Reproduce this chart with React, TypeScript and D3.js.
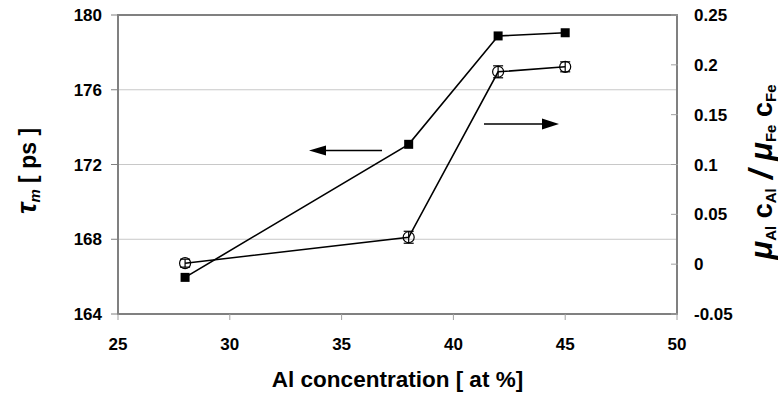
import React from "react";
import * as d3 from "d3";

const alConc = [28, 38, 42, 45];
const tauM = [165.96, 173.08, 178.88, 179.05];
const ratio = [0.001, 0.027, 0.193, 0.198];
const ratioErr = [0.004, 0.006, 0.006, 0.005];
const xTicks = [25, 30, 35, 40, 45, 50];
const yLeftTicks = [164, 168, 172, 176, 180];
const yRightTicks = [-0.05, 0, 0.05, 0.1, 0.15, 0.2, 0.25];

const W = 778, H = 400;
const L = 118, R = 677, T = 15, B = 314;
const FONT = "'Liberation Sans', Arial, sans-serif";

export default function App() {
  const x = d3.scaleLinear().domain([25, 50]).range([L, R]);
  const yL = d3.scaleLinear().domain([164, 180]).range([B, T]);
  const yR = d3.scaleLinear().domain([-0.05, 0.25]).range([B, T]);
  const lineL = d3.line<number>().x((_, i) => x(alConc[i])).y((d) => yL(d));
  const lineR = d3.line<number>().x((_, i) => x(alConc[i])).y((d) => yR(d));
  const fmtR = (v: number) => (Math.abs(v) < 1e-9 ? "0" : String(+v.toFixed(2)));

  return (
    <svg width={W} height={H} style={{ position: "absolute", left: 0, top: 0, background: "#fff" }} fontFamily={FONT}>
      <rect x={0} y={0} width={W} height={H} fill="#fff" />
      {yLeftTicks.slice(1, -1).map((t) => (
        <line key={t} x1={L} x2={R} y1={yL(t)} y2={yL(t)} stroke="#c8c8c8" strokeWidth={1} />
      ))}
      <rect x={L} y={T} width={R - L} height={B - T} fill="none" stroke="#808080" strokeWidth={2} />
      {yLeftTicks.map((t) => (
        <g key={t}>
          <line x1={L - 7} x2={L} y1={yL(t)} y2={yL(t)} stroke="#808080" strokeWidth={1} />
          <text x={L - 16} y={yL(t) + 6} textAnchor="end" fontSize={17} fontWeight="bold">{t}</text>
        </g>
      ))}
      {yRightTicks.map((t) => (
        <g key={t}>
          <line x1={R - 6} x2={R + 1} y1={yR(t)} y2={yR(t)} stroke="#a0a0a0" strokeWidth={1} />
          <text x={R + 17} y={yR(t) + 6} textAnchor="start" fontSize={17} fontWeight="bold">{fmtR(t)}</text>
        </g>
      ))}
      {xTicks.map((t) => (
        <g key={t}>
          <line x1={x(t)} x2={x(t)} y1={B} y2={B + 6} stroke="#a0a0a0" strokeWidth={1} />
          <text x={x(t)} y={B + 36} textAnchor="middle" fontSize={17} fontWeight="bold">{t}</text>
        </g>
      ))}
      <path d={lineL(tauM) || ""} fill="none" stroke="#000" strokeWidth={1.6} />
      <path d={lineR(ratio) || ""} fill="none" stroke="#000" strokeWidth={1.6} />
      {tauM.map((v, i) => (
        <rect key={i} x={x(alConc[i]) - 4.5} y={yL(v) - 4.5} width={9} height={9} fill="#000" />
      ))}
      {ratio.map((v, i) => {
        const cx = x(alConc[i]);
        const y1 = yR(v + ratioErr[i]);
        const y2 = yR(v - ratioErr[i]);
        return (
          <g key={i} stroke="#000" strokeWidth={1.2} fill="none">
            <line x1={cx} x2={cx} y1={y1} y2={y2} />
            <line x1={cx - 5} x2={cx + 5} y1={y1} y2={y1} />
            <line x1={cx - 5} x2={cx + 5} y1={y2} y2={y2} />
            <circle cx={cx} cy={yR(v)} r={5.5} />
          </g>
        );
      })}
      <line x1={382} x2={320} y1={150.5} y2={150.5} stroke="#000" strokeWidth={1.6} />
      <path d="M309,150.5 L326,145.5 L326,155.5 Z" fill="#000" />
      <line x1={484} x2={545} y1={124} y2={124} stroke="#000" strokeWidth={1.6} />
      <path d="M559,124 L542,118.5 L542,129.5 Z" fill="#000" />
      <text x={(L + R) / 2} y={387} textAnchor="middle" fontSize={22.5} fontWeight="bold">Al concentration [ at %]</text>
      <text transform="translate(36,171) rotate(-90)" textAnchor="middle" fontSize={23} fontWeight="bold">
        <tspan fontStyle="italic" fontSize={28}>τ</tspan>
        <tspan fontStyle="italic" fontSize={15} dy={4}>m</tspan>
        <tspan dy={-4}> [ ps ]</tspan>
      </text>
      <text transform="translate(772,172) rotate(-90)" textAnchor="middle" fontSize={27} fontWeight="bold">
        <tspan fontStyle="italic" fontSize={31}>μ</tspan>
        <tspan fontSize={15} dy={4}>Al</tspan>
        <tspan dy={-4}> c</tspan>
        <tspan fontSize={15} dy={4}>Al</tspan>
        <tspan dy={-4} fontStyle="italic" fontSize={33}> / </tspan>
        <tspan fontStyle="italic" fontSize={31}>μ</tspan>
        <tspan fontSize={15} dy={4}>Fe</tspan>
        <tspan dy={-4}> c</tspan>
        <tspan fontSize={15} dy={4}>Fe</tspan>
      </text>
    </svg>
  );
}
